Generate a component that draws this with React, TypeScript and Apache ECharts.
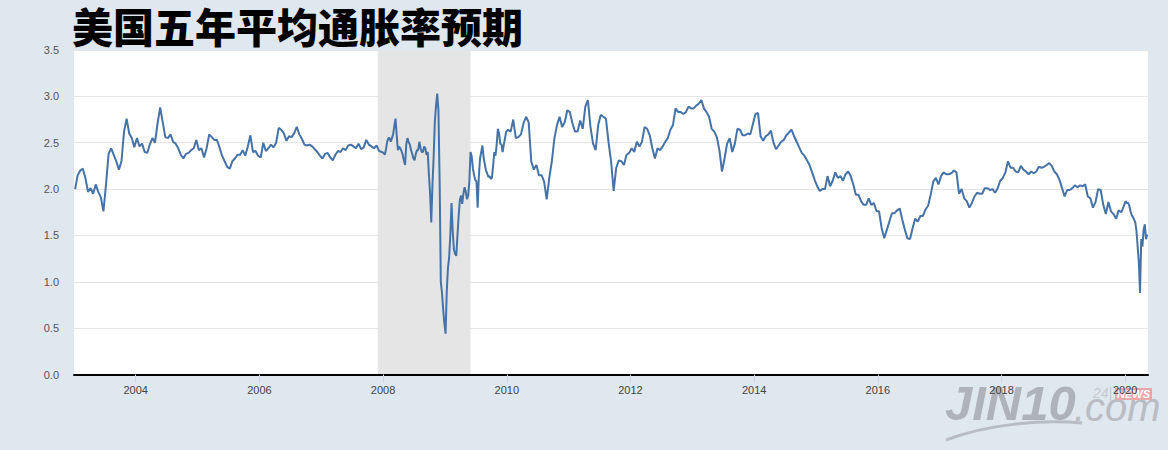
import React, { useEffect, useRef } from "react";
import * as echarts from "echarts";

// Readings of the 5-year breakeven inflation curve, per year.
// Semi-monthly samples (24 per year) except the weekly years listed in weeklyYears.
const v2003 = [2.00, 2.15, 2.20, 2.22, 2.12, 1.97, 2.01, 1.95, 2.05, 1.97, 1.91, 1.76, 2.05, 2.38, 2.44, 2.37, 2.30, 2.21, 2.30, 2.62, 2.76, 2.60, 2.55, 2.45];
const v2004 = [2.55, 2.46, 2.49, 2.40, 2.39, 2.48, 2.55, 2.50, 2.71, 2.88, 2.72, 2.56, 2.55, 2.59, 2.51, 2.49, 2.44, 2.37, 2.33, 2.38, 2.39, 2.42, 2.44, 2.53];
const v2005 = [2.42, 2.44, 2.34, 2.44, 2.59, 2.56, 2.53, 2.53, 2.45, 2.36, 2.30, 2.24, 2.22, 2.30, 2.33, 2.37, 2.37, 2.42, 2.36, 2.46, 2.58, 2.40, 2.41, 2.36];
const v2006 = [2.34, 2.50, 2.41, 2.44, 2.48, 2.45, 2.50, 2.66, 2.64, 2.60, 2.52, 2.57, 2.56, 2.60, 2.67, 2.59, 2.54, 2.48, 2.47, 2.48, 2.46, 2.43, 2.40, 2.36];
const v2007 = [2.33, 2.38, 2.39, 2.34, 2.31, 2.37, 2.41, 2.40, 2.44, 2.42, 2.47, 2.48, 2.46, 2.44, 2.49, 2.43, 2.45, 2.53, 2.48, 2.46, 2.44, 2.47, 2.41, 2.40];
const v2008 = [2.39, 2.37, 2.43, 2.51, 2.55, 2.55, 2.51, 2.55, 2.59, 2.68, 2.76, 2.58, 2.42, 2.46, 2.44, 2.41, 2.37, 2.31, 2.26, 2.48, 2.55, 2.51, 2.48, 2.42, 2.38, 2.33, 2.31, 2.38, 2.42, 2.42, 2.51, 2.44, 2.40, 2.40, 2.46, 2.44, 2.37, 2.40, 2.16, 1.95, 1.64, 2.05, 2.35, 2.73, 2.90, 3.03, 2.85, 2.10, 1.00, 0.88, 0.70, 0.55];
const v2009 = [0.44, 0.90, 1.15, 1.26, 1.51, 1.85, 1.55, 1.35, 1.30, 1.28, 1.50, 1.71, 1.88, 1.93, 1.84, 1.95, 2.02, 1.97, 1.89, 1.93, 2.08, 2.40, 2.35, 2.22, 2.15, 2.10, 2.08, 1.80, 2.14, 2.33, 2.40, 2.47, 2.34, 2.27, 2.20, 2.17, 2.13, 2.14, 2.11, 2.12, 2.25, 2.40, 2.36, 2.48, 2.65, 2.60, 2.49, 2.48, 2.40, 2.48, 2.55, 2.62];
const v2010 = [2.64, 2.62, 2.75, 2.55, 2.56, 2.59, 2.71, 2.78, 2.72, 2.30, 2.21, 2.26, 2.15, 2.15, 2.08, 1.89, 2.12, 2.30, 2.55, 2.69, 2.78, 2.67, 2.72, 2.85];
const v2011 = [2.83, 2.71, 2.62, 2.62, 2.74, 2.65, 2.89, 2.96, 2.67, 2.49, 2.42, 2.69, 2.80, 2.78, 2.76, 2.51, 2.30, 1.98, 2.23, 2.31, 2.30, 2.26, 2.37, 2.39];
const v2012 = [2.44, 2.40, 2.51, 2.46, 2.51, 2.67, 2.65, 2.58, 2.44, 2.33, 2.44, 2.42, 2.46, 2.51, 2.55, 2.64, 2.69, 2.87, 2.83, 2.83, 2.81, 2.83, 2.89, 2.87];
const v2013 = [2.87, 2.90, 2.92, 2.96, 2.87, 2.83, 2.78, 2.65, 2.62, 2.56, 2.42, 2.19, 2.33, 2.49, 2.55, 2.40, 2.49, 2.65, 2.64, 2.58, 2.58, 2.60, 2.59, 2.70];
const v2014 = [2.81, 2.82, 2.57, 2.52, 2.57, 2.59, 2.63, 2.50, 2.43, 2.47, 2.51, 2.53, 2.58, 2.61, 2.64, 2.57, 2.51, 2.45, 2.39, 2.36, 2.31, 2.26, 2.18, 2.10];
const v2015 = [2.03, 1.98, 2.00, 2.00, 2.14, 2.03, 2.09, 2.18, 2.12, 2.14, 2.09, 2.16, 2.19, 2.14, 2.05, 1.94, 1.94, 1.87, 1.83, 1.83, 1.90, 1.83, 1.85, 1.76];
const v2016 = [1.76, 1.58, 1.47, 1.56, 1.65, 1.74, 1.74, 1.77, 1.79, 1.67, 1.56, 1.47, 1.46, 1.58, 1.68, 1.65, 1.71, 1.71, 1.78, 1.82, 1.94, 2.08, 2.12, 2.05];
const v2017 = [2.14, 2.18, 2.16, 2.16, 2.17, 2.20, 2.18, 1.95, 2.00, 1.90, 1.87, 1.80, 1.85, 1.92, 1.96, 1.95, 1.95, 2.01, 2.01, 1.99, 2.00, 1.96, 2.01, 2.09];
const v2018 = [2.12, 2.18, 2.30, 2.23, 2.23, 2.19, 2.18, 2.25, 2.21, 2.19, 2.16, 2.19, 2.17, 2.19, 2.24, 2.23, 2.24, 2.26, 2.28, 2.25, 2.19, 2.16, 2.10, 2.01];
const v2019 = [1.92, 1.99, 1.99, 2.01, 2.04, 2.02, 2.04, 2.03, 2.05, 1.92, 1.90, 1.80, 1.86, 2.00, 1.99, 1.83, 1.73, 1.86, 1.76, 1.73, 1.68, 1.77, 1.75, 1.82];
const v2020 = [1.87, 1.85, 1.85, 1.82, 1.76, 1.72, 1.70, 1.67, 1.64, 1.55, 1.38, 1.21, 0.88, 1.46, 1.38, 1.56, 1.62, 1.46, 1.51];

const weeklyYears = [2008, 2009, 2020];
const yearlyValues: [number, number[]][] = [
  [2003, v2003], [2004, v2004], [2005, v2005], [2006, v2006], [2007, v2007],
  [2008, v2008], [2009, v2009], [2010, v2010], [2011, v2011], [2012, v2012],
  [2013, v2013], [2014, v2014], [2015, v2015], [2016, v2016], [2017, v2017],
  [2018, v2018], [2019, v2019], [2020, v2020],
];

const xTickYears = [2004, 2006, 2008, 2010, 2012, 2014, 2016, 2018, 2020];
const recession = ["2007-12-01", "2009-06-01"];
const rangeStart = "2003-01-02";
const rangeEnd = "2020-05-15";
const title = "美国五年平均通胀率预期";
const BG = "#dfe7ef";

function utc(s: string) {
  const [y, m, d] = s.split("-").map(Number);
  return Date.UTC(y, m - 1, d);
}

function buildData() {
  const out: [number, number][] = [];
  for (const [year, vals] of yearlyValues) {
    const perYear = weeklyYears.includes(year) ? 52 : 24;
    const start = Date.UTC(year, 0, 1);
    const end = Date.UTC(year + 1, 0, 1);
    const step = (end - start) / perYear;
    vals.forEach((v, i) => out.push([start + (i + 0.5) * step, v]));
  }
  return out;
}

export default function App() {
  const ref = useRef<HTMLDivElement>(null);
  useEffect(() => {
    if (!ref.current) return;
    document.body.style.margin = "0";
    document.body.style.background = BG;
    const chart = echarts.init(ref.current, undefined, { renderer: "svg" });
    const tickValues = xTickYears.map((y) => Date.UTC(y, 0, 1));
    const font = "'Liberation Sans', Arial, sans-serif";
    chart.setOption({
      animation: false,
      backgroundColor: BG,
      grid: {
        left: 74,
        right: 20,
        top: 50,
        bottom: 75.5,
        show: true,
        backgroundColor: "#ffffff",
        borderWidth: 0,
      },
      xAxis: {
        type: "value",
        min: utc(rangeStart),
        max: utc(rangeEnd),
        z: 10,
        axisLine: { show: true, onZero: false, lineStyle: { color: "#000000", width: 2 } },
        axisTick: {
          show: true,
          length: 8,
          customValues: tickValues,
          lineStyle: { color: "#ccd6eb", width: 1 },
        },
        axisLabel: {
          customValues: tickValues,
          formatter: (v: number) => String(new Date(v).getUTCFullYear()),
          color: "#444444",
          fontSize: 11,
          fontFamily: font,
          margin: 10,
        },
        splitLine: { show: false },
      },
      yAxis: {
        type: "value",
        min: 0,
        max: 3.5,
        interval: 0.5,
        axisLine: { show: false },
        axisTick: { show: false },
        axisLabel: {
          formatter: (v: number) => v.toFixed(1),
          color: "#555555",
          fontSize: 11,
          fontFamily: font,
          margin: 15,
        },
        splitLine: { show: true, lineStyle: { color: "#e6e6e6", width: 1 } },
      },
      series: [
        {
          type: "line",
          data: buildData(),
          showSymbol: false,
          symbol: "none",
          lineStyle: { color: "#4572a7", width: 2 },
          itemStyle: { color: "#4572a7" },
          z: 3,
          markArea: {
            silent: true,
            itemStyle: { color: "#e5e5e5" },
            data: [[{ xAxis: utc(recession[0]) }, { xAxis: utc(recession[1]) }]],
          },
        },
      ],
      graphic: [
        {
          type: "rect",
          z: 0,
          shape: { x: 1148, y: 48, width: 20, height: 326 },
          style: { fill: BG },
        },
        {
          type: "text",
          x: 72,
          y: 25,
          z: 20,
          style: {
            text: title,
            fill: "#000000",
            font: "900 41px 'Noto Sans CJK SC', sans-serif",
            textVerticalAlign: "middle",
          },
        },
        {
          type: "bezierCurve",
          z: 1,
          shape: { x1: 946, y1: 440, cpx1: 985, cpy1: 425, cpx2: 1040, cpy2: 419, x2: 1082, y2: 423 },
          style: { stroke: "#b8bdc3", lineWidth: 3, fill: "none" },
        },
        {
          type: "text",
          x: 945,
          y: 427,
          z: 1,
          style: {
            text: "JIN10",
            fill: "#aeb3ba",
            font: "italic bold 49px 'Liberation Sans', Arial, sans-serif",
            textVerticalAlign: "bottom",
          },
        },
        {
          type: "text",
          x: 1074,
          y: 427,
          z: 1,
          style: {
            text: ".com",
            fill: "#b8bcc3",
            font: "italic 40px 'Liberation Sans', Arial, sans-serif",
            textVerticalAlign: "bottom",
          },
        },
        {
          type: "text",
          x: 1093,
          y: 400,
          z: 1,
          style: {
            text: "24|",
            fill: "#c6cacf",
            font: "italic 14px 'Liberation Sans', Arial, sans-serif",
            textVerticalAlign: "bottom",
          },
        },
        {
          type: "rect",
          z: 1,
          shape: { x: 1115, y: 388, width: 37, height: 12 },
          style: { fill: "#eaa7ab" },
        },
        {
          type: "text",
          x: 1117,
          y: 399.5,
          z: 1,
          style: {
            text: "NEWS",
            fill: "#ffffff",
            font: "italic bold 11px 'Liberation Sans', Arial, sans-serif",
            textVerticalAlign: "bottom",
          },
        },
      ],
    });
    return () => chart.dispose();
  }, []);
  return (
    <div
      ref={ref}
      style={{ position: "fixed", left: 0, top: 0, width: 1168, height: 450 }}
    />
  );
}
